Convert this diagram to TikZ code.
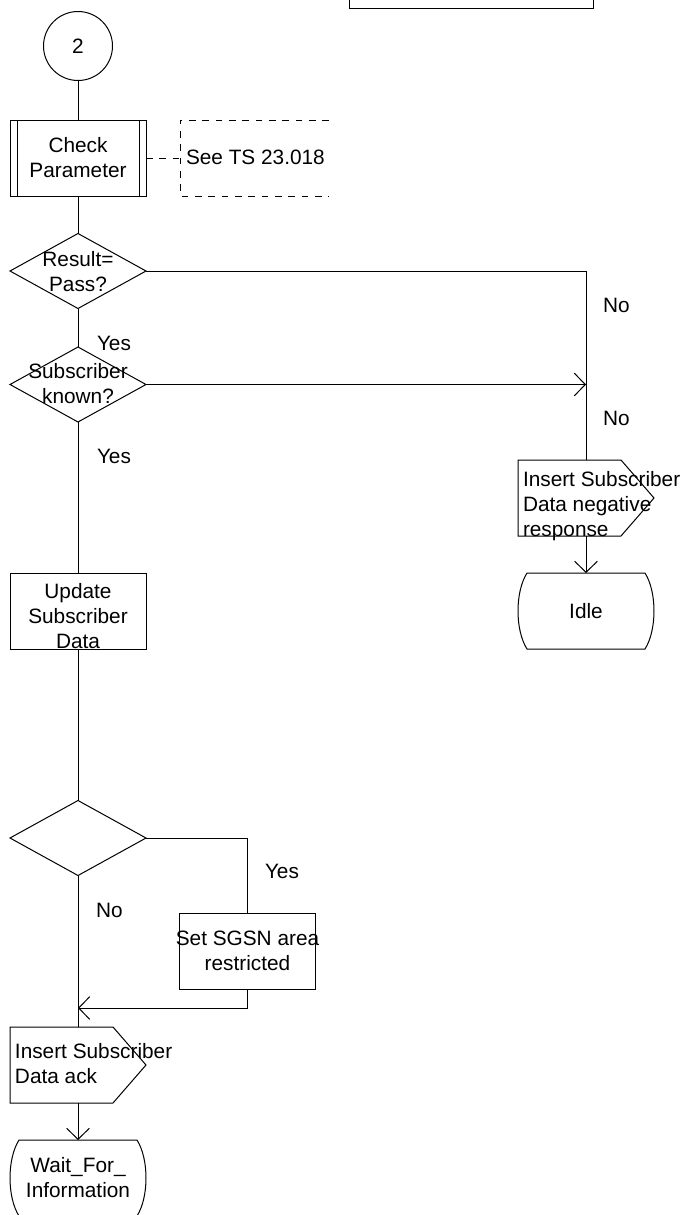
\documentclass[tikz,border=0pt]{standalone}
\usepackage{fontspec}
\setmainfont{Liberation Sans}
\usetikzlibrary{shapes.geometric,arrows.meta,calc}
\newcommand\stateshape[1]{\draw[ln] ($(#1.north west)+(9,0)$) -- ($(#1.north east)+(-9,0)$) .. controls ($(#1.north east)+(3,19)$) and ($(#1.south east)+(3,-19)$) .. ($(#1.south east)+(-9,0)$) -- ($(#1.south west)+(9,0)$) .. controls ($(#1.south west)+(-3,-19)$) and ($(#1.north west)+(-3,19)$) .. cycle;}
\newcommand\outshape[1]{\draw[ln] (#1.north west) -- ($(#1.north east)+(-33,0)$) -- (#1.east) -- ($(#1.south east)+(-33,0)$) -- (#1.south west) -- cycle;}
\begin{document}
\begin{tikzpicture}[x=0.75pt,y=-0.75pt,
  every node/.style={font=\fontsize{15.6pt}{18.75pt}\selectfont, inner sep=0pt, outer sep=0pt},
  ln/.style={line width=0.75pt, draw=black},
  arr/.style={ln, -{Straight Barb[length=8.25pt,width=17pt]}},
  box/.style={rectangle, draw=black, line width=0.75pt, minimum width=102pt, minimum height=57pt},
  frame/.style={rectangle, minimum width=102pt, minimum height=57pt},
  dec/.style={diamond, draw=black, line width=0.75pt, minimum width=102pt, minimum height=56.25pt},
  txt/.style={align=center},
  ltxt/.style={align=left, anchor=west},
  lbl/.style={anchor=base west},
  dsh/.style={line width=0.75pt, draw=black, dash pattern=on 5pt off 5pt},
]
\clip (0,0) rectangle (689,1215);

% partial box at top
\node[rectangle, draw=black, line width=0.75pt, minimum width=183pt, minimum height=51pt] (topbox) at (471,-26) {};

% connector 2
\node[circle, draw=black, line width=0.75pt, minimum size=51.75pt] (c2) at (78,46) {2};

% procedure call
\node[box] (chk) at (78,158) {};
\draw[ln] ($(chk.north west)+(7,0)$) -- ($(chk.south west)+(7,0)$);
\draw[ln] ($(chk.north east)+(-7,0)$) -- ($(chk.south east)+(-7,0)$);
\node[txt] (chkt) at (78,158) {Check\\Parameter};

% comment
\node[frame, minimum width=111.75pt] (cmt) at (254.5,158) {};
\draw[dsh] (cmt.north east) -- (cmt.north west) -- (cmt.south west) -- (cmt.south east);
\node[anchor=west] (cmtt) at (186,157.5) {See TS 23.018};

% decisions and tasks
\node[dec] (d1) at (78,271) {};
\node[txt] (d1t) at (78,271.5) {Result=\\Pass?};
\node[dec] (d2) at (78,384.5) {};
\node[txt] (d2t) at (78,383.5) {Subscriber\\known?};
\node[box] (upd) at (78,611) {};
\node[txt] (updt) at (78,616) {Update\\Subscriber\\Data};
\node[dec] (d3) at (78,838) {};
\node[box] (sgsn) at (247,951.5) {};
\node[txt] (sgsnt) at (247.5,951) {Set SGSN area\\restricted};

% output signals
\node[frame] (ack) at (78,1065) {};
\outshape{ack}
\node[ltxt] (ackt) at (15,1063.5) {Insert Subscriber\\Data ack};
\node[frame] (neg) at (586,498) {};
\outshape{neg}
\node[ltxt] (negt) at (523,506) {Insert Subscriber\\Data negative\\response};

% states
\node[frame] (wait) at (78,1178) {};
\stateshape{wait}
\node[txt] (waitt) at (78,1177.5) {Wait\_For\_\\Information};
\node[frame] (idle) at (586,611) {};
\stateshape{idle}
\node (idlet) at (586,611) {Idle};

% junctions
\coordinate (j1) at (neg.north |- d2.east);
\coordinate (j2) at ($(ack.north)+(0,-19)$);

% connectors
\draw[ln] (c2.south) -- (chk.north);
\draw[dsh] (chk.east) -- (cmt.west);
\draw[ln] (chk.south) -- (d1.north);
\draw[ln] (d1.east) -| (neg.north);
\draw[ln] (d1.south) -- (d2.north);
\draw[arr] (d2.east) -- (j1);
\draw[ln] (d2.south) -- (upd.north);
\draw[ln] (upd.south) -- (d3.north);
\draw[ln] (d3.east) -| (sgsn.north);
\draw[ln] (d3.south) -- (ack.north);
\draw[arr] (sgsn.south) |- (j2);
\draw[arr] (neg.south) -- (idle.north);
\draw[arr] (ack.south) -- (wait.north);

% branch labels
\node[lbl] (no1) at (603,312) {No};
\node[lbl] (no2) at (603,425) {No};
\node[lbl] (yes1) at (97,350) {Yes};
\node[lbl] (yes2) at (97,463) {Yes};
\node[lbl] (yes3) at (265,878) {Yes};
\node[lbl] (no3) at (96,917) {No};
\end{tikzpicture}
\end{document}
